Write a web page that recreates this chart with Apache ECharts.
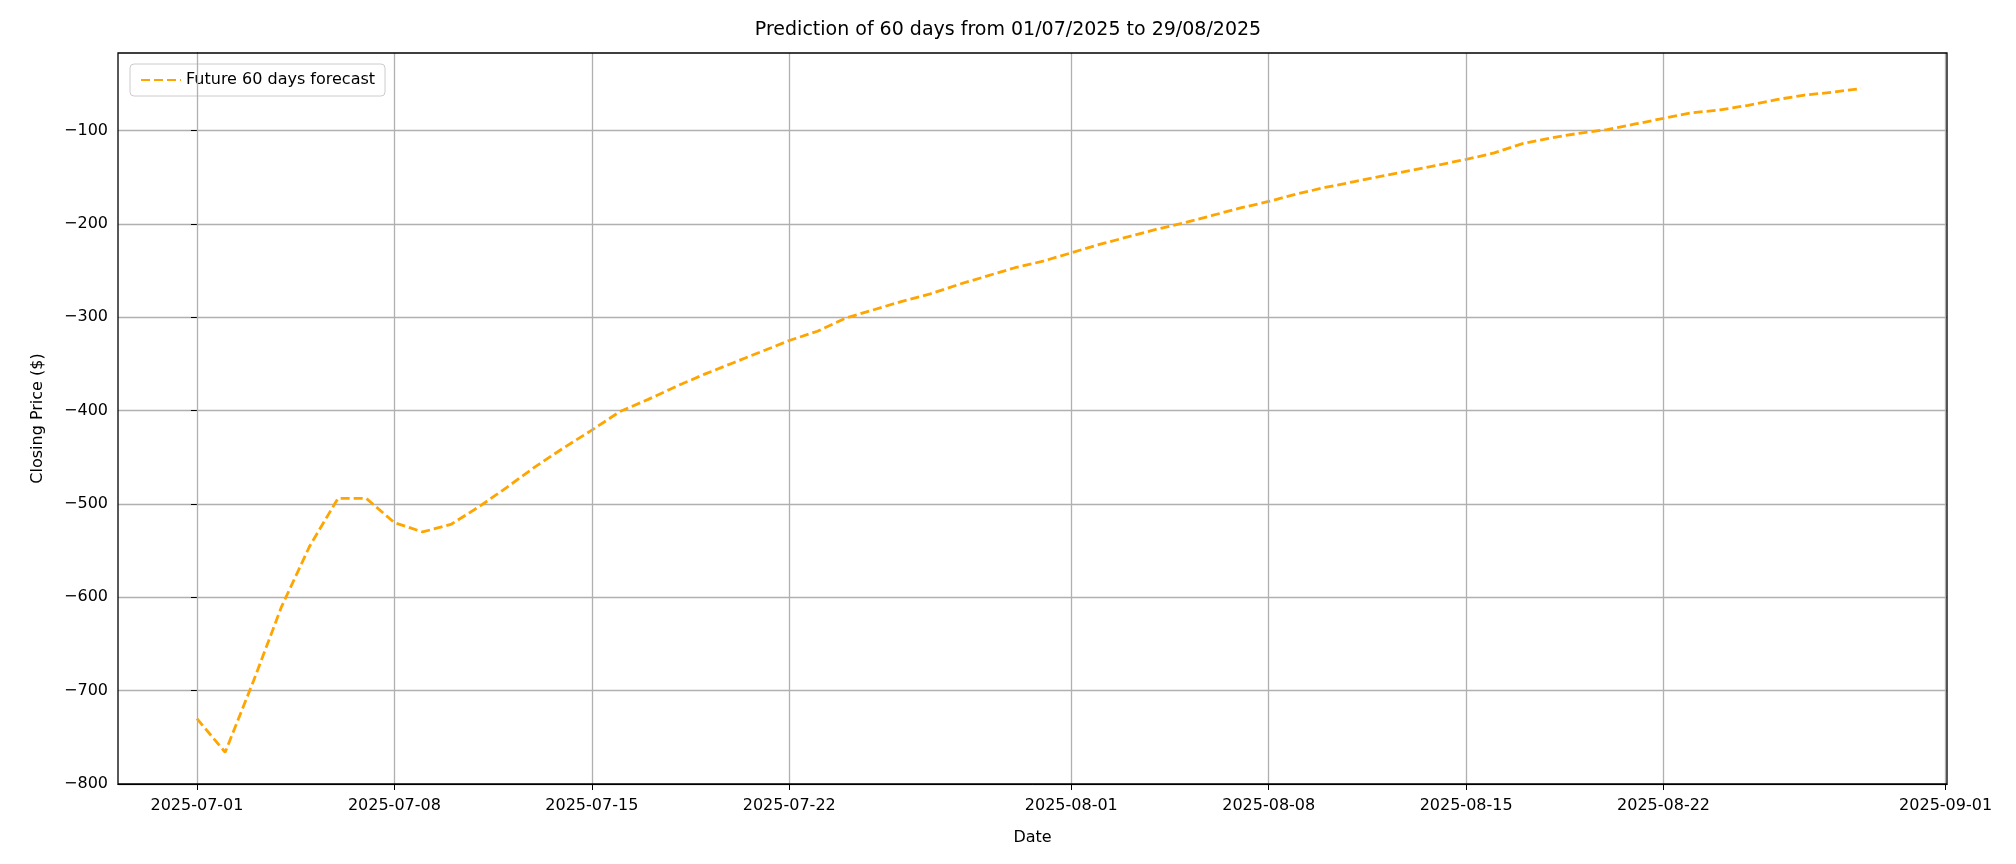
<!DOCTYPE html>
<html><head><meta charset="utf-8">
<script src="https://cdn.jsdelivr.net/npm/echarts@6/dist/echarts.min.js"></script>
<style>html,body{margin:0;background:#fff}#c{width:2016px;height:864px}</style>
</head><body><div id="c"></div>
<script>
const startDate = '2025-07-01';
const values = [-730,-766,-690,-610,-545,-494,-494,-520,-530,-522,
-503,-482,-460,-440,-421,-401,-388,-374,-361,-349,
-337,-325,-315,-301,-292,-283,-275,-265,-256,-247,
-240,-231,-222,-214,-206,-199,-191,-183,-176,-168,
-161,-155,-149,-143,-137,-131,-124,-114,-108,-103,
-99,-93,-87,-81,-78,-73,-67,-62,-59,-55];
const tickDays = [0,7,14,21,31,38,45,52,62];
const DAY = 86400000;
const t0 = Date.UTC(2025,6,1);
function fmt(ms){const d=new Date(ms);return d.getUTCFullYear()+'-'+String(d.getUTCMonth()+1).padStart(2,'0')+'-'+String(d.getUTCDate()).padStart(2,'0');}
const data = values.map((v,i)=>[i,v]);
const font = 'DejaVu Sans';
const chart = echarts.init(document.getElementById('c'));
chart.setOption({
  animation:false,
  textStyle:{fontFamily:font},
  title:{text:'Prediction of 60 days from 01/07/2025 to 29/08/2025',left:'center',top:16,textStyle:{fontFamily:font,fontWeight:'normal',fontSize:19,color:'#000'}},
  legend:{left:130,top:64,orient:'vertical',data:['Future 60 days forecast'],itemWidth:40,itemHeight:14,
    itemStyle:{opacity:0},
    textStyle:{fontFamily:font,fontSize:16,color:'#000'},borderColor:'#ccc',borderWidth:1,borderRadius:4,padding:[8,10]},
  grid:{left:118,right:69,top:53,bottom:80,show:true,borderColor:'#000',borderWidth:1.3,backgroundColor:'transparent',z:10},
  xAxis:{type:'value',min:-2.8,max:62.05,name:'Date',nameLocation:'middle',nameGap:46,
    nameTextStyle:{fontSize:16,color:'#000'},
    axisLine:{lineStyle:{color:'#000'}},
    axisTick:{customValues:tickDays,length:6,lineStyle:{color:'#000'}},
    axisLabel:{customValues:tickDays,fontSize:16,color:'#000',margin:14,formatter:v=>fmt(t0+v*DAY)},
    splitLine:{show:false}},
  yAxis:{type:'value',min:-800,max:-17,interval:100,name:'Closing Price ($)',nameLocation:'middle',nameGap:72,
    nameTextStyle:{fontSize:16,color:'#000'},
    axisLine:{show:true,lineStyle:{color:'#000'}},
    axisTick:{show:true,length:6,lineStyle:{color:'#000'}},
    axisLabel:{showMaxLabel:false,fontSize:16,color:'#000',margin:10,formatter:v=>(v%100!==0)?'':(v<0?'\u2212'+Math.abs(v):String(v))},
    splitLine:{showMaxLine:false,lineStyle:{color:'#b0b0b0',width:1.3}}},
  series:[{name:'Future 60 days forecast',type:'line',data:data,symbol:'none',
    lineStyle:{color:'#FFA500',width:2.8,type:[9,4]},itemStyle:{color:'#FFA500'},
    markLine:{silent:true,symbol:'none',label:{show:false},lineStyle:{color:'#b0b0b0',width:1.3,type:'solid'},
      data:tickDays.map(d=>({xAxis:d}))}}]
});
</script></body></html>
